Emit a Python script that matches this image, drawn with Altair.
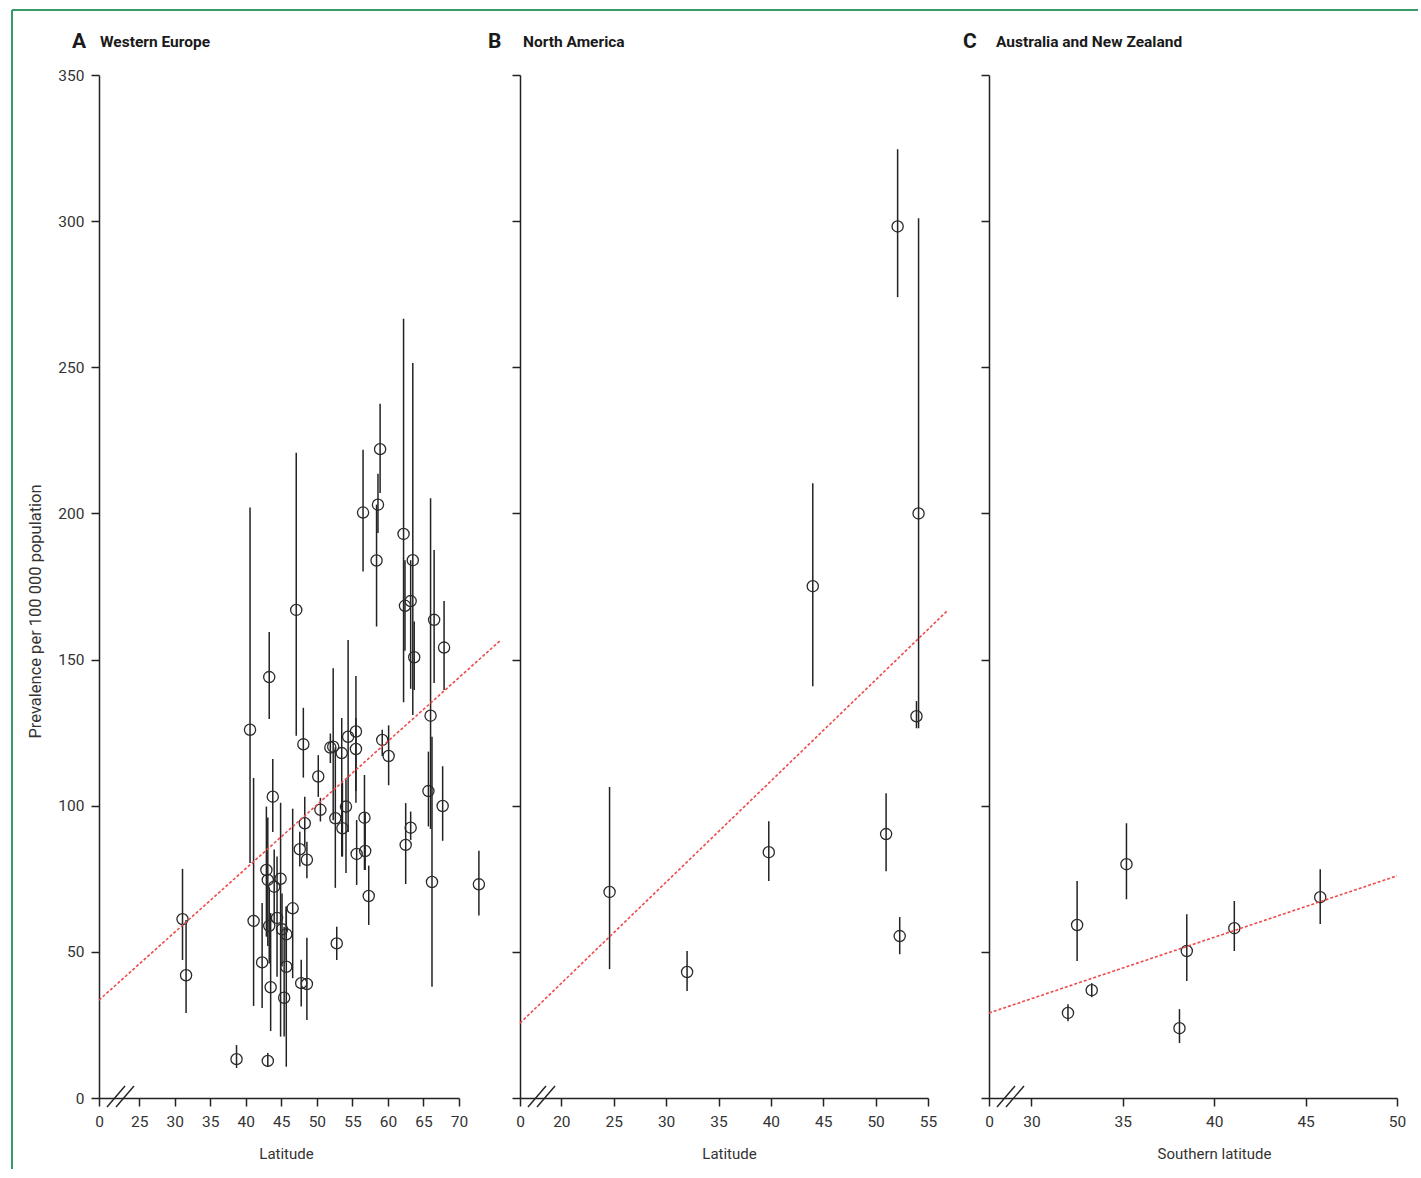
import altair as alt
import pandas as pd

FONT = "Roboto"
INK = "#222222"
TEXT = "#333333"
FIT_RED = "#ef4a4a"
FRAME_GREEN = "#3b9a69"

# ---- A: Western Europe (latitude, prevalence, 95% CI) ----
we_lat = [31.1, 31.6, 38.7, 43.1, 40.6, 41.1, 42.3, 43.5, 42.9, 43.1,
          43.3, 43.8, 44.4, 44.9, 44.0, 43.3, 45.1, 45.7, 45.7, 45.4,
          46.6, 47.6, 48.3, 48.6, 47.8, 48.6, 48.1, 50.2, 50.5, 51.9,
          52.3, 52.6, 52.8, 53.5, 53.6, 54.1, 54.4, 55.5, 55.5, 55.6,
          56.7, 56.8, 57.3, 59.2, 60.1, 62.5, 63.2, 65.7, 66.0, 66.2,
          67.7, 72.8, 56.5, 58.9, 58.6, 58.4, 62.2, 63.5, 62.4, 63.2,
          63.7, 66.5, 67.9, 47.1]
we_prev = [61.2, 42.0, 13.3, 12.7, 126.0, 60.6, 46.4, 37.9, 78.0, 74.6,
           144.0, 103.1, 61.6, 75.0, 72.3, 58.9, 57.7, 56.0, 44.9, 34.3,
           64.9, 85.1, 94.0, 81.5, 39.3, 39.0, 121.0, 110.0, 98.6, 119.9,
           120.2, 95.7, 52.9, 118.0, 92.3, 99.7, 123.6, 125.4, 119.4, 83.5,
           95.9, 84.5, 69.1, 122.5, 117.0, 86.6, 92.5, 105.0, 130.8, 73.9,
           99.9, 73.1, 200.3, 222.0, 203.0, 183.9, 193.0, 184.0, 168.4, 170.0,
           150.8, 163.6, 154.1, 167.0]
we_lo = [47.2, 29.1, 10.3, 10.6, 80.4, 31.5, 30.8, 22.9, 55.2, 52.0,
         129.7, 91.0, 41.5, 21.0, 60.0, 46.0, 45.0, 47.2, 10.7, 21.0,
         41.0, 79.2, 86.0, 75.2, 31.3, 26.7, 109.6, 103.0, 94.6, 114.6,
         95.0, 71.9, 47.2, 82.6, 82.6, 77.0, 91.0, 101.0, 105.0, 72.9,
         78.0, 78.0, 59.2, 117.0, 107.0, 73.2, 88.3, 92.9, 92.0, 38.1,
         88.0, 62.4, 180.1, 207.0, 193.3, 161.3, 135.4, 131.0, 153.0, 140.0,
         139.6, 142.0, 139.6, 123.9]
we_hi = [78.4, 60.9, 18.1, 15.4, 202.0, 109.5, 66.7, 63.3, 99.7, 96.0,
         159.4, 116.0, 82.6, 101.0, 85.0, 72.0, 70.0, 65.5, 65.5, 58.6,
         99.0, 91.1, 103.1, 87.7, 47.3, 54.8, 133.5, 117.3, 102.7, 124.7,
         147.0, 120.0, 58.6, 130.0, 107.8, 109.0, 156.7, 144.4, 130.0, 95.1,
         110.5, 97.5, 79.5, 126.0, 127.5, 100.9, 98.0, 118.5, 205.2, 123.6,
         113.5, 84.6, 221.8, 237.5, 213.6, 203.0, 266.6, 251.5, 184.0, 184.0,
         163.0, 187.5, 170.0, 220.8]
we_fit_lat = [19.35, 75.9]
we_fit_prev = [33.5, 156.7]

# ---- B: North America ----
na_lat = [24.6, 32.0, 39.8, 44.0, 51.0, 52.1, 52.3, 54.1, 53.9]
na_prev = [70.5, 43.1, 84.1, 175.1, 90.3, 298.2, 55.4, 200.0, 130.6]
na_lo = [44.1, 36.6, 74.2, 140.9, 77.6, 274.0, 49.2, 126.5, 126.5]
na_hi = [106.4, 50.3, 94.7, 210.3, 104.3, 324.6, 61.9, 301.0, 135.8]
na_fit_lat = [16.05, 56.9]
na_fit_prev = [25.6, 166.9]

# ---- C: Australia and New Zealand ----
anz_lat = [32.0, 32.5, 33.3, 35.2, 38.1, 38.5, 41.1, 45.8]
anz_prev = [29.1, 59.2, 36.9, 80.0, 23.9, 50.3, 58.1, 68.7]
anz_lo = [26.3, 46.9, 34.5, 68.0, 18.8, 40.0, 50.3, 59.5]
anz_hi = [32.1, 74.2, 39.3, 94.0, 30.4, 62.9, 67.4, 78.3]
anz_fit_lat = [27.68, 50.0]
anz_fit_prev = [29.1, 76.0]

Y_TICKS = [0, 50, 100, 150, 200, 250, 300, 350]
PLOT_H = 1023


def panel(lat, prev, lo, hi, fit_lat, fit_prev, x_start, x_end, x_ticks,
          width, xtitle, xtitle_x, letter, name, letter_dx, name_dx,
          y_labels, frame=False):
    pts = pd.DataFrame({"lat": lat, "prev": prev, "lo": lo, "hi": hi})
    fit = pd.DataFrame({"lat": fit_lat, "prev": fit_prev})
    one = pd.DataFrame({"k": [0]})

    xs = alt.Scale(domain=[x_start, x_end], nice=False, zero=False)
    ys = alt.Scale(domain=[0, 350], nice=False)
    # the first tick sits at the start of the broken axis and reads "0"
    xaxis = alt.Axis(values=[x_start] + x_ticks,
                     labelExpr=f"datum.value < {x_ticks[0] - 0.5} ? '0' : datum.label",
                     title=xtitle, titleX=xtitle_x, titleY=55,
                     titleBaseline="middle", titleAlign="center",
                     grid=False, tickSize=8, labelPadding=8, labelFlush=False)
    if y_labels:
        yaxis = alt.Axis(values=Y_TICKS, title="Prevalence per 100 000 population",
                         titleX=-64, titleY=536, titleBaseline="middle",
                         titleAlign="center", titleFontSize=16.5, grid=False,
                         tickSize=8, labelPadding=7, labelFlush=False)
    else:
        yaxis = alt.Axis(values=Y_TICKS, labels=False, title=None,
                         grid=False, tickSize=8)

    x_enc = alt.X("lat:Q", scale=xs, axis=xaxis)

    whiskers = alt.Chart(pts).mark_rule(color=INK, strokeWidth=1.5).encode(
        x=x_enc, y=alt.Y("lo:Q", scale=ys, axis=yaxis), y2="hi:Q")
    dots = alt.Chart(pts).mark_point(shape="circle", filled=False, size=125,
                                     color="#2a2a2a", strokeWidth=1.3, opacity=1).encode(
        x=x_enc, y=alt.Y("prev:Q", scale=ys, axis=yaxis))
    trend = alt.Chart(fit).mark_line(color=FIT_RED, strokeDash=[3, 2],
                                     strokeWidth=1.6).encode(
        x=x_enc, y=alt.Y("prev:Q", scale=ys, axis=yaxis))

    # axis-break marks just right of the origin
    brk = []
    for dx in (8, 17):
        brk.append(alt.Chart(one).mark_rule(color=INK, strokeWidth=1.4).encode(
            x=alt.value(dx), x2=alt.value(dx + 18),
            y=alt.value(PLOT_H + 9), y2=alt.value(PLOT_H - 12)))

    lab = alt.Chart(one).mark_text(font=FONT, fontSize=21, fontWeight="bold",
                                   align="left", baseline="alphabetic",
                                   color="#1a1a1a", text=letter).encode(
        x=alt.value(letter_dx), y=alt.value(-27))
    ttl = alt.Chart(one).mark_text(font=FONT, fontSize=15.5, fontWeight="bold",
                                   align="left", baseline="alphabetic",
                                   color="#1a1a1a", text=name).encode(
        x=alt.value(name_dx), y=alt.value(-28))

    layers = [whiskers, dots, trend] + brk + [lab, ttl]
    if frame:
        layers.append(alt.Chart(one).mark_rule(color=FRAME_GREEN, strokeWidth=2).encode(
            x=alt.value(-87), y=alt.value(-65), y2=alt.value(1094)))
        layers.append(alt.Chart(one).mark_rule(color=FRAME_GREEN, strokeWidth=2).encode(
            x=alt.value(-87), x2=alt.value(1319), y=alt.value(-65)))
    return alt.layer(*layers).properties(width=width, height=PLOT_H)


a = panel(we_lat, we_prev, we_lo, we_hi, we_fit_lat, we_fit_prev,
          19.35, 70, [25, 30, 35, 40, 45, 50, 55, 60, 65, 70], 360,
          "Latitude", 187, "A", "Western Europe", -27, 1, True, frame=True)
b = panel(na_lat, na_prev, na_lo, na_hi, na_fit_lat, na_fit_prev,
          16.05, 55, [20, 25, 30, 35, 40, 45, 50, 55], 408,
          "Latitude", 209, "B", "North America", -32, 3, False)
c = panel(anz_lat, anz_prev, anz_lo, anz_hi, anz_fit_lat, anz_fit_prev,
          27.68, 50, [30, 35, 40, 45, 50], 408,
          "Southern latitude", 225, "C", "Australia and New Zealand", -26, 7, False)

chart = alt.hconcat(a, b, c, spacing=61, bounds="flush").properties(
    padding={"left": 11, "top": 9, "right": 0, "bottom": 0},
    background="white",
).configure_view(stroke=None).configure_axis(
    domainColor=INK, domainWidth=1.5, tickColor=INK, tickWidth=1.5,
    labelFont=FONT, labelFontSize=15.5, labelColor=TEXT,
    titleFont=FONT, titleFontSize=15, titleColor=TEXT, titleFontWeight="normal",
)

chart.save("out.html", embed_options={"renderer": "svg", "actions": False})
